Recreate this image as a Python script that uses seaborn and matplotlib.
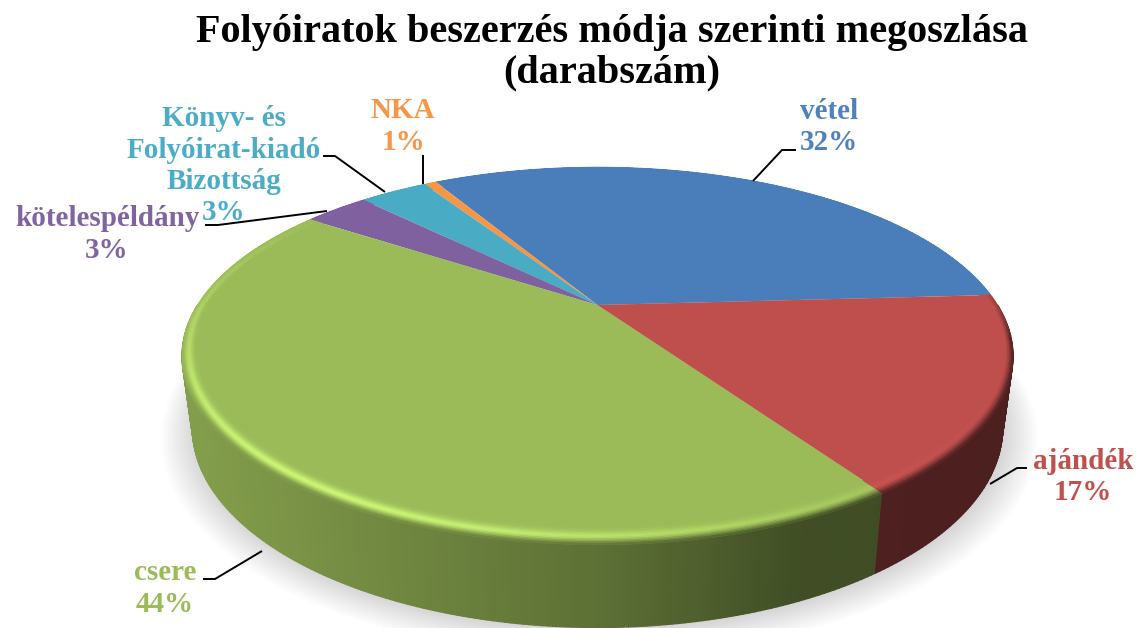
import numpy as np
import matplotlib
matplotlib.use("Agg")
import matplotlib.pyplot as plt
import matplotlib.transforms as mtransforms
from matplotlib.collections import PolyCollection
import seaborn as sns

# share of journals by acquisition type
categories = ["vétel", "NKA", "Könyv- és\nFolyóirat-kiadó\nBizottság", "kötelespéldány", "csere", "ajándék"]
values = [32.4, 0.6, 3.4, 3.2, 43.8, 16.6]
slice_colors = ["#4A7EBB", "#F79646", "#4AABC4", "#7F619F", "#9BBB59", "#BE4F4D"]
label_colors = ["#4F81BD", "#F79646", "#4BACC6", "#8064A2", "#9BBB59", "#C0504D"]
title = "Folyóiratok beszerzés módja szerinti megoszlása\n(darabszám)"

start_angle = 3.3
persp = 0.27


class Tilt(mtransforms.Transform):
    # unit circle -> tilted disc seen in perspective (pixel coords)
    input_dims = 2
    output_dims = 2
    is_separable = False
    has_inverse = False

    def __init__(self, rx, ry, cx, cy):
        super().__init__()
        self.rx, self.ry, self.cx, self.cy = rx, ry, cx, cy

    def transform_non_affine(self, pts):
        pts = np.asarray(pts, dtype=float)
        den = 1 + persp * pts[:, 1]
        return np.column_stack([self.cx + self.rx * pts[:, 0] / den,
                                self.cy - self.ry * pts[:, 1] / den])


top_plane = Tilt(400, 175, 597.5, 305)
low_plane = Tilt(390, 185, 597.5, 374)


def ring(th, r=1.0):
    t = np.radians(th)
    return np.column_stack([r * np.cos(t), r * np.sin(t)])


def side_shade(th):
    # darker to the right of the front face
    x = top_plane.transform_non_affine(ring(th))[:, 0]
    return np.interp(x, [180, 300, 600, 800, 880, 1020], [0.85, 0.78, 0.60, 0.42, 0.41, 0.40])


sns.set_theme(style="white")
palette = sns.color_palette(slice_colors)
plt.rcParams["font.family"] = ["Liberation Serif", "DejaVu Serif"]

fig, ax = plt.subplots(figsize=(11.39, 6.28), dpi=100)
fig.subplots_adjust(0, 0, 1, 1)

wedges, _ = ax.pie(values, colors=palette, startangle=start_angle, counterclock=True, radius=1.0)
for w in wedges:
    w.set_transform(top_plane + ax.transData)
    w.set_zorder(5)
    w.set_edgecolor("none")

ax.set_aspect("auto")
ax.set_xlim(0, 1139)
ax.set_ylim(628, 0)
ax.axis("off")

# soft shadow below the disc
for r in np.linspace(1.075, 1.0, 14):
    th = np.linspace(0, 360, 361)
    xy = low_plane.transform_non_affine(ring(th, r))
    ax.fill(xy[:, 0] + 2, xy[:, 1] + 2, color="black", alpha=0.012, lw=0, zorder=1)

# side wall and bevelled rim, slice by slice
edges = start_angle + np.concatenate([[0], np.cumsum(values)]) * 3.6
side_polys, side_cols, rim_polys, rim_cols = [], [], [], []
rim_s = np.linspace(0, 1, 14)
for i, col in enumerate(palette):
    base = np.array(col)
    n = max(2, int((edges[i + 1] - edges[i]) * 1.5))
    th = np.linspace(edges[i], edges[i + 1], n)
    upper = top_plane.transform_non_affine(ring(th))
    lower = low_plane.transform_non_affine(ring(th))
    mid = (th[:-1] + th[1:]) / 2
    shade = side_shade(mid)
    sin_mid = np.sin(np.radians(mid))
    # bevel only shows on the front; on the left it stays lit right up to the edge
    front = np.where(mid < 300, np.clip((mid - 125) / 30.0, 0, 1), np.clip((-sin_mid + 0.12) / 0.3, 0, 1))
    dark_vis = np.where(mid < 300, np.clip((mid - 185) / 30.0, 0, 1), 1.0)
    gain = 0.34 * np.exp(-((mid - 235) / 55.0) ** 2)
    width = 0.028 + 0.032 * np.abs(sin_mid)
    for j in range(n - 1):
        # the back half of the wall is hidden behind the top face
        if sin_mid[j] < 0:
            side_polys.append([upper[j], upper[j + 1], lower[j + 1], lower[j]])
            side_cols.append(base * shade[j])
        for a, b in zip(rim_s[:-1], rim_s[1:]):
            s = (a + b) / 2
            bump = np.exp(-((s - 0.62) / 0.27) ** 2)
            lit = np.clip(base * (1 + gain[j] * bump), 0, 1)
            dark = dark_vis[j] * np.clip((s - 0.55) / 0.45, 0, 1) ** 1.5
            c = lit * (1 - dark) + base * shade[j] * dark
            c = base * (1 - front[j]) + c * front[j]
            r0, r1 = 1 - width[j] * (1 - a), 1 - width[j] * (1 - b)
            quad = np.vstack([ring(th[j:j + 2], r0), ring(th[j:j + 2][::-1], r1)])
            rim_polys.append(top_plane.transform_non_affine(quad))
            rim_cols.append(c)

ax.add_collection(PolyCollection(side_polys, facecolors=side_cols, edgecolors=side_cols, linewidths=1.0, zorder=3))
ax.add_collection(PolyCollection(rim_polys, facecolors=rim_cols, edgecolors=rim_cols, linewidths=0.6, zorder=6))

# title
ax.text(612, 53, title, ha="center", va="center", fontsize=29, fontweight="bold",
        color="black", linespacing=1.135, zorder=10)

# labels (x, baseline of first line) and leader lines
label_pos = [(829, 119), (403, 118), (224, 126), (107, 226), (165, 580), (1083, 469)]
line_step = 31.5
leaders = [
    [(753, 181), (782, 150), (796, 150)],
    [(423, 184), (423, 155)],
    [(385, 192), (335, 156), (323, 156)],
    [(327, 211), (218, 225), (205, 225)],
    [(262, 551), (215, 579), (203, 579)],
    [(990, 484), (1017, 468), (1027, 468)],
]
for name, val, c, pos, line in zip(categories, values, label_colors, label_pos, leaders):
    rows = name.split("\n") + [f"{round(val)}%"]
    for k, row in enumerate(rows):
        ax.text(pos[0], pos[1] + k * line_step, row, color=c, ha="center", va="baseline",
                fontsize=21, fontweight="bold", zorder=9)
    pts = np.array(line)
    ax.plot(pts[:, 0], pts[:, 1], color="black", lw=1.4, zorder=8, solid_capstyle="butt")

fig.savefig("out.png", dpi=100)
